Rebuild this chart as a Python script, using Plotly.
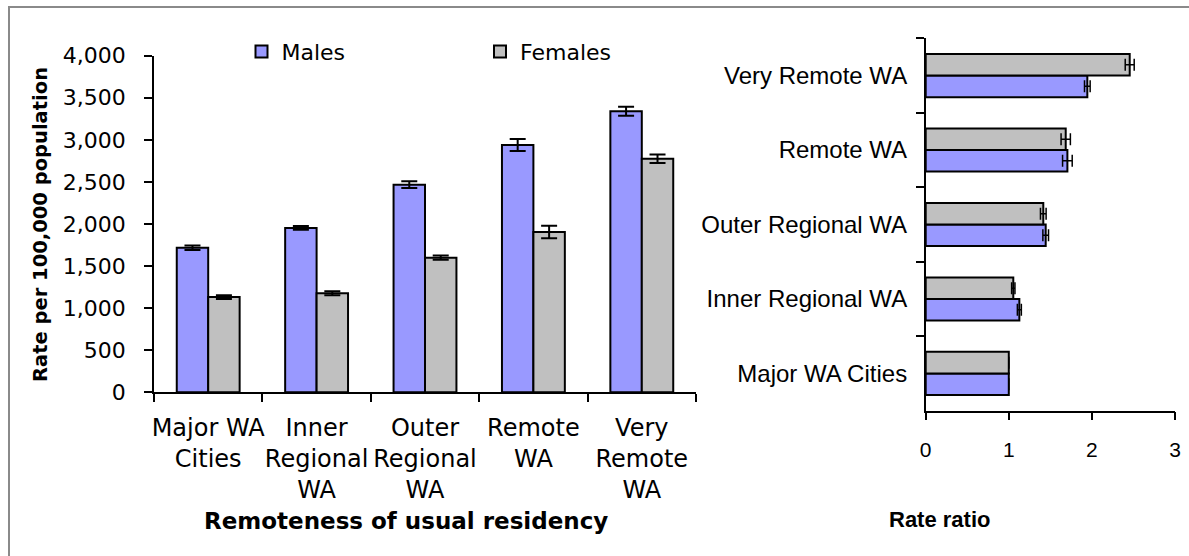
import plotly.graph_objects as go

categories = ["Major WA Cities", "Inner Regional WA", "Outer Regional WA", "Remote WA", "Very Remote WA"]
left_tick_text = ["Major WA<br>Cities", "Inner<br>Regional<br>WA", "Outer<br>Regional<br>WA",
                  "Remote<br>WA", "Very<br>Remote<br>WA"]
male_rate = [1718, 1953, 2467, 2939, 3339]
male_err = [27, 22, 40, 71, 53]
female_rate = [1132, 1176, 1600, 1905, 2776]
female_err = [22, 24, 26, 73, 50]
male_ratio = [1.0, 1.127, 1.444, 1.705, 1.945]
male_ratio_err = [0, 0.024, 0.034, 0.058, 0.034]
female_ratio = [1.0, 1.054, 1.415, 1.685, 2.455]
female_ratio_err = [0, 0.02, 0.034, 0.056, 0.054]
y_ticks = [0, 500, 1000, 1500, 2000, 2500, 3000, 3500, 4000]
x2_ticks = [0, 1, 2, 3]

MALE = "#9999FF"
FEMALE = "#C0C0C0"
W, H = 1189, 556
LF = "DejaVu Sans"
RF = "Liberation Sans, Arial"

def px(x):
    return x / W

def py(y):
    return 1 - y / H

fig = go.Figure()

fig.add_trace(go.Bar(
    x=categories, y=male_rate, name="Males", legend="legend",
    marker=dict(color=MALE, line=dict(color="black", width=2)),
    error_y=dict(type="data", array=male_err, color="black", thickness=2, width=8),
    xaxis="x", yaxis="y"))
fig.add_trace(go.Bar(
    x=categories, y=female_rate, name="Females", legend="legend2",
    marker=dict(color=FEMALE, line=dict(color="black", width=2)),
    error_y=dict(type="data", array=female_err, color="black", thickness=2, width=8),
    xaxis="x", yaxis="y"))

fig.add_trace(go.Bar(
    y=categories, x=male_ratio, orientation="h", showlegend=False,
    marker=dict(color=MALE, line=dict(color="black", width=2)),
    error_x=dict(type="data", array=male_ratio_err, color="black", thickness=1.5, width=6),
    xaxis="x2", yaxis="y2"))
fig.add_trace(go.Bar(
    y=categories, x=female_ratio, orientation="h", showlegend=False,
    marker=dict(color=FEMALE, line=dict(color="black", width=2)),
    error_x=dict(type="data", array=female_ratio_err, color="black", thickness=1.5, width=6),
    xaxis="x2", yaxis="y2"))

axis_common = dict(showline=True, linecolor="black", linewidth=1.5, ticks="outside",
                   ticklen=8, tickcolor="black", tickwidth=1.5, showgrid=False, zeroline=False)

fig.update_layout(
    template="none",
    width=W, height=H,
    margin=dict(l=0, r=0, t=0, b=0),
    paper_bgcolor="white", plot_bgcolor="white",
    barmode="group", bargap=0.42, bargroupgap=0,
    xaxis=dict(domain=[px(154), px(696)], type="category", tickson="boundaries",
               tickvals=categories, ticktext=left_tick_text, tickangle=0,
               tickfont=dict(family=LF, size=24, color="black"), ticklabelstandoff=13,
               anchor="y", **axis_common),
    yaxis=dict(domain=[py(392.3), py(55.7)], range=[0, 4000], tickvals=y_ticks,
               tickformat=",", tickfont=dict(family=LF, size=22, color="black"),
               ticklabelstandoff=14, anchor="x", **axis_common),
    xaxis2=dict(domain=[px(925.7), px(1175)], range=[0, 3], tickvals=x2_ticks, tickangle=0,
                tickfont=dict(family=RF, size=21, color="black"), ticklabelstandoff=11,
                anchor="y2", **axis_common),
    yaxis2=dict(domain=[py(410.7), py(38.3)], type="category", tickson="boundaries",
                tickfont=dict(family=RF, size=24, color="black"), ticklabelstandoff=12,
                anchor="x2", **axis_common),
    legend=dict(x=px(241.5), y=py(51.6), xanchor="left", yanchor="middle",
                orientation="h", bgcolor="rgba(0,0,0,0)",
                font=dict(family=LF, size=22, color="black")),
    legend2=dict(x=px(480), y=py(51.6), xanchor="left", yanchor="middle",
                 orientation="h", bgcolor="rgba(0,0,0,0)",
                 font=dict(family=LF, size=22, color="black")),
    annotations=[
        dict(text="<b>Rate per 100,000 population</b>", x=px(41), y=py(225),
             xref="paper", yref="paper", xanchor="center", yanchor="middle",
             textangle=-90, showarrow=False,
             font=dict(family=LF, size=19.5, color="black")),
        dict(text="<b>Remoteness of usual residency</b>", x=px(405.5), y=py(521),
             xref="paper", yref="paper", xanchor="center", yanchor="middle",
             showarrow=False, font=dict(family=LF, size=23, color="black")),
        dict(text="<b>Rate ratio</b>", x=px(939), y=py(519),
             xref="paper", yref="paper", xanchor="center", yanchor="middle",
             showarrow=False, font=dict(family=RF, size=22, color="black")),
    ],
    shapes=[
        dict(type="path", xref="paper", yref="paper",
             path=f"M {px(9)},0 L {px(9)},{py(7)} L 1,{py(7)}",
             line=dict(color="#8a8a8a", width=2)),
    ],
)

fig.write_html("out.html",
               config={"displayModeBar": False},
               post_script="document.body.style.margin='0';document.body.style.overflow='hidden';")
